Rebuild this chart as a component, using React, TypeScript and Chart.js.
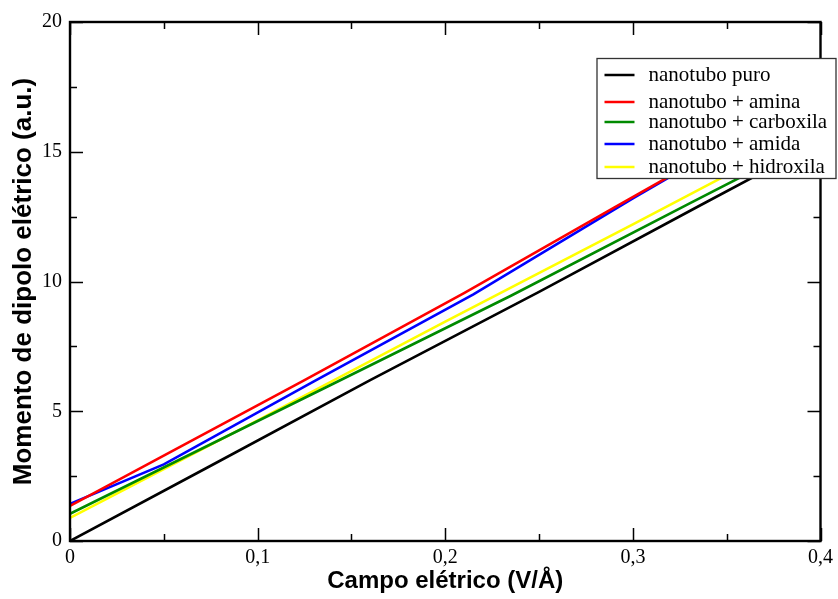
import React, { useEffect, useRef } from "react";
import { Chart, registerables } from "chart.js";

Chart.register(...registerables);

const seriesNames = [
  "nanotubo puro",
  "nanotubo + amina",
  "nanotubo + carboxila",
  "nanotubo + amida",
  "nanotubo + hidroxila",
];
const seriesColors = ["#000000", "#ff0000", "#008a00", "#0000ff", "#ffff00"];

const puroX = [0, 0.075, 0.16, 0.25, 0.335, 0.4];
const puroY = [0, 2.9, 6.2, 9.6, 12.9, 15.4];

const aminaX = [0, 0.045, 0.125, 0.21, 0.29, 0.4];
const aminaY = [1.35, 3.1, 6.2, 9.55, 12.85, 17.35];

const carboxilaX = [0, 0.14, 0.235, 0.33, 0.4];
const carboxilaY = [1.05, 6.05, 9.45, 13.0, 15.6];

const amidaX = [0, 0.05, 0.13, 0.215, 0.3, 0.4];
const amidaY = [1.43, 2.95, 6.15, 9.5, 13.2, 17.4];

const hidroxilaX = [0, 0.1, 0.2, 0.3, 0.4];
const hidroxilaY = [0.89, 4.65, 8.45, 12.2, 16.0];

const xTicks = [0, 0.1, 0.2, 0.3, 0.4];
const yTicks = [0, 5, 10, 15, 20];

const allX = [puroX, aminaX, carboxilaX, amidaX, hidroxilaX];
const allY = [puroY, aminaY, carboxilaY, amidaY, hidroxilaY];

const frameTicksPlugin = {
  id: "frameTicks",
  afterDatasetsDraw(chart: any) {
    const { ctx, chartArea, scales } = chart;
    const { left, right, top, bottom } = chartArea;
    const xs = scales.x;
    const ys = scales.y;
    ctx.save();
    ctx.strokeStyle = "#000";
    ctx.lineWidth = 1.5;
    const major = 13;
    const minor = 7;
    for (let i = 0; i < xTicks.length; i++) {
      const v = xTicks[i];
      const p = Math.round(xs.getPixelForValue(v)) + 0.5;
      ctx.beginPath();
      ctx.moveTo(p, bottom);
      ctx.lineTo(p, bottom - major);
      ctx.moveTo(p, top);
      ctx.lineTo(p, top + major);
      ctx.stroke();
      if (i < xTicks.length - 1) {
        const m = Math.round(xs.getPixelForValue((v + xTicks[i + 1]) / 2)) + 0.5;
        ctx.beginPath();
        ctx.moveTo(m, bottom);
        ctx.lineTo(m, bottom - minor);
        ctx.moveTo(m, top);
        ctx.lineTo(m, top + minor);
        ctx.stroke();
      }
    }
    for (let i = 0; i < yTicks.length; i++) {
      const v = yTicks[i];
      const p = Math.round(ys.getPixelForValue(v)) + 0.5;
      ctx.beginPath();
      ctx.moveTo(left, p);
      ctx.lineTo(left + major, p);
      ctx.moveTo(right, p);
      ctx.lineTo(right - major, p);
      ctx.stroke();
      if (i < yTicks.length - 1) {
        const m = Math.round(ys.getPixelForValue((v + yTicks[i + 1]) / 2)) + 0.5;
        ctx.beginPath();
        ctx.moveTo(left, m);
        ctx.lineTo(left + minor, m);
        ctx.moveTo(right, m);
        ctx.lineTo(right - minor, m);
        ctx.stroke();
      }
    }
    ctx.lineWidth = 2.4;
    ctx.strokeRect(left, top, right - left, bottom - top);
    ctx.restore();
  },
  afterDraw(chart: any) {
    const { ctx, chartArea } = chart;
    const bx = chartArea.right - 224;
    const by = chartArea.top + 36;
    const bw = 240;
    const bh = 121;
    ctx.save();
    ctx.fillStyle = "#ffffff";
    ctx.fillRect(bx, by, bw, bh);
    ctx.strokeStyle = "#333";
    ctx.lineWidth = 1.3;
    ctx.strokeRect(bx + 0.5, by + 0.5, bw - 1, bh - 1);
    const rows = [17, 44, 64, 86, 109];
    ctx.font = "21px 'Liberation Serif'";
    ctx.textBaseline = "middle";
    ctx.textAlign = "left";
    for (let i = 0; i < seriesNames.length; i++) {
      const y = by + rows[i];
      ctx.strokeStyle = seriesColors[i];
      ctx.lineWidth = 2.5;
      ctx.beginPath();
      ctx.moveTo(bx + 8, y);
      ctx.lineTo(bx + 38, y);
      ctx.stroke();
      ctx.fillStyle = "#000";
      ctx.fillText(seriesNames[i], bx + 52, y);
    }
    ctx.restore();
  },
};

export default function App() {
  const ref = useRef<HTMLCanvasElement | null>(null);
  useEffect(() => {
    if (!ref.current) return;
    const datasets = seriesNames.map((name, i) => ({
      label: name,
      data: allX[i].map((x, j) => ({ x, y: allY[i][j] })),
      borderColor: seriesColors[i],
      backgroundColor: seriesColors[i],
      borderWidth: 2.6,
      pointRadius: 0,
      tension: 0,
      fill: false,
    }));
    const chart = new Chart(ref.current, {
      type: "line",
      data: { datasets },
      options: {
        animation: false,
        responsive: false,
        devicePixelRatio: 1,
        layout: { padding: { top: 22, right: 16, left: 0, bottom: 0 } },
        plugins: { legend: { display: false }, tooltip: { enabled: false } },
        scales: {
          x: {
            type: "linear",
            min: 0,
            max: 0.4,
            grid: { display: false, drawTicks: false },
            border: { display: false },
            afterBuildTicks: (s: any) => {
              s.ticks = xTicks.map((v) => ({ value: v }));
            },
            afterFit: (s: any) => {
              s.height = 58;
            },
            ticks: {
              padding: 5,
              color: "#000",
              font: { family: "'Liberation Serif'", size: 20 },
              callback: (v: any) => (Number(v) === 0 ? "0" : Number(v).toFixed(1).replace(".", ",")),
            },
            title: {
              display: true,
              text: "Campo elétrico (V/Å)",
              color: "#000",
              font: { family: "'Liberation Sans'", size: 24, weight: "bold" },
              padding: { top: 0, bottom: 3 },
            },
          },
          y: {
            type: "linear",
            min: 0,
            max: 20,
            grid: { display: false, drawTicks: false },
            border: { display: false },
            afterBuildTicks: (s: any) => {
              s.ticks = yTicks.map((v) => ({ value: v }));
            },
            afterFit: (s: any) => {
              s.width = 70;
            },
            ticks: {
              padding: 8,
              color: "#000",
              font: { family: "'Liberation Serif'", size: 20 },
            },
            title: {
              display: true,
              text: "Momento de dipolo elétrico (a.u.)",
              color: "#000",
              font: { family: "'Liberation Sans'", size: 26, weight: "bold" },
              padding: { top: 8, bottom: 0 },
            },
          },
        },
      },
      plugins: [frameTicksPlugin],
    } as any);
    return () => chart.destroy();
  }, []);
  return (
    <div style={{ position: "absolute", left: 0, top: 0, width: 838, height: 599, background: "#fff" }}>
      <canvas ref={ref} width={838} height={599} style={{ display: "block", width: 838, height: 599 }} />
    </div>
  );
}
